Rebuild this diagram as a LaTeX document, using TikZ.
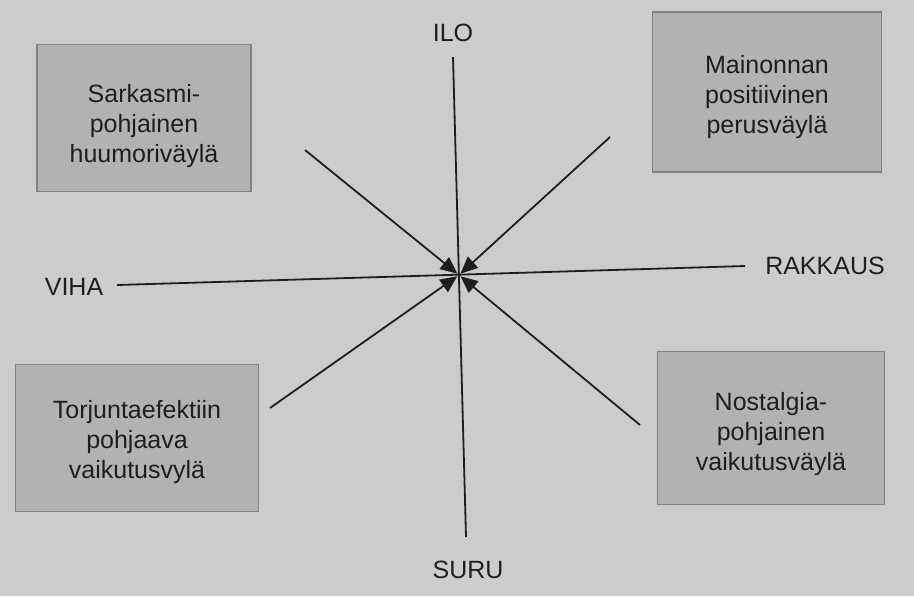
\documentclass[tikz,border=0pt]{standalone}
\usepackage{fontspec}
\setmainfont{Liberation Sans}
\usepackage{xcolor}
\usetikzlibrary{arrows.meta, positioning}

\definecolor{pagebg}{RGB}{204,204,204}
\definecolor{panelfill}{RGB}{178,178,178}
\definecolor{paneldraw}{RGB}{130,130,130}
\definecolor{inkgray}{RGB}{30,30,30}

\begin{document}
\begin{tikzpicture}[
  x=0.5pt, y=-0.5pt,
  panel/.style  = {rectangle, draw=paneldraw, fill=panelfill, line width=0.7pt},
  paneltxt/.style={font=\fontsize{12.5}{14.8}\selectfont, align=center, text=inkgray},
  axislbl/.style= {font=\fontsize{12.5}{14}\selectfont, text=inkgray},
  axis/.style   = {inkgray, line width=0.9pt},
  arr/.style    = {-{Triangle[length=8.5pt, width=7.5pt]}, inkgray, line width=0.9pt,
                   shorten >=1pt}
]
% ── Page ──────────────────────────────────────────────────────────────────────
\fill[pagebg] (0,0) rectangle (914,596);

% ── Corner panels ─────────────────────────────────────────────────────────────
\node[panel, minimum width=107pt, minimum height=73.5pt,
      label={[paneltxt, yshift=-4pt]center:{Sarkasmi-\\pohjainen\\huumoriväylä}}]
      (humor) at (144,118) {};
\node[panel, minimum width=114.5pt, minimum height=80pt,
      label={[paneltxt, yshift=-2.5pt]center:{Mainonnan\\positiivinen\\perusväylä}}]
      (pos) at (767,92) {};
\node[panel, minimum width=121.5pt, minimum height=73.5pt,
      label={[paneltxt, yshift=-2pt]center:{Torjuntaefektiin\\pohjaava\\vaikutusvylä}}]
      (torj) at (137,438) {};
\node[panel, minimum width=113.5pt, minimum height=76.5pt,
      label={[paneltxt, yshift=-3pt]center:{Nostalgia-\\pohjainen\\vaikutusväylä}}]
      (nost) at (771,428) {};

% ── Axis labels ───────────────────────────────────────────────────────────────
\node[axislbl] (ilo)     at (453,33)  {ILO};
\node[axislbl] (suru)    at (468,570) {SURU};
\node[axislbl] (viha)    at (74,287)  {VIHA};
\node[axislbl] (rakkaus) at (825,266) {RAKKAUS};

% ── Axis ends and centre ──────────────────────────────────────────────────────
\coordinate (top)    at (453,57);
\coordinate (bottom) at (466,537);
\coordinate (left)   at (117,285);
\coordinate (right)  at (745,266);
\coordinate (c)      at (459,275);

\coordinate (tl) at (305,150);
\coordinate (tr) at (610,137);
\coordinate (bl) at (270,408);
\coordinate (br) at (640,425);

% ── Axes ──────────────────────────────────────────────────────────────────────
\draw[axis] (top)  -- (bottom);
\draw[axis] (left) -- (right);

% ── Arrows into the centre ────────────────────────────────────────────────────
\draw[arr] (tl) -- (c);
\draw[arr] (tr) -- (c);
\draw[arr] (bl) -- (c);
\draw[arr] (br) -- (c);
\end{tikzpicture}
\end{document}
